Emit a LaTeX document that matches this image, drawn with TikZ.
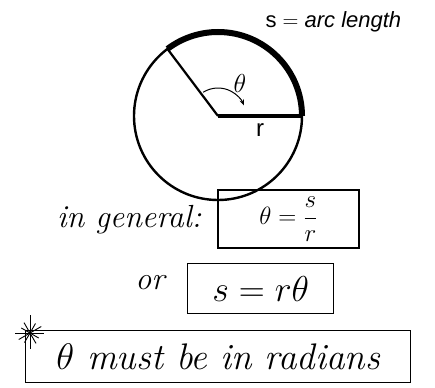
\documentclass[tikz,border=0pt]{standalone}
\usepackage{fix-cm}
\usepackage{fontspec}
\setsansfont{Liberation Sans}
\usetikzlibrary{arrows.meta}
\begin{document}
\begin{tikzpicture}[x=1pt,y=-1pt,
  thick arc/.style={line width=6pt},
  hand/.style={font=\fontsize{32}{34}\selectfont\itshape},
  box/.style={draw,line width=1.4pt,inner sep=0pt}]
\useasboundingbox (0,0) rectangle (435,387);
% circle
\coordinate (O) at (218,116);
\draw[line width=2.4pt] (O) circle[radius=84];
\draw[thick arc] ([shift={(0:84)}]O) arc[start angle=0,end angle=-127,radius=84];
\path (O) ++(-127:84) coordinate (A);
\draw[line width=2.2pt] (O) -- (A);
\coordinate (B) at (302,116);
\draw[line width=3.2pt] (O) -- (B);
% angle arrow
\draw[line width=1pt,-{Stealth[length=6pt]}] (O) ++(-122:28) arc[start angle=-122,end angle=-22,radius=28];
\node[font=\fontsize{26}{28}\selectfont] (th) at (240,83) {$\theta$};
\node[font=\sffamily\fontsize{24}{26}\selectfont] (r) at (260,130) {r};
\node[font=\sffamily\fontsize{22}{24}\selectfont, anchor=west] (slab) at (262,22) {s $=$ \textit{arc length}};
% box 1
\node[hand, anchor=east] (gen) at (205,220) {in general:};
\node[box, line width=1.8pt, minimum width=141, minimum height=58, anchor=north west] (b1) at (217,189) {};
\node[font=\fontsize{25}{27}\selectfont] at (b1.center) {$\theta=\displaystyle\frac{s}{r}$};
% box 2
\node[hand] (or) at (150,283) {or};
\node[box, minimum width=146, minimum height=50, anchor=north west] (b2) at (187,263) {};
\node[font=\fontsize{36}{38}\selectfont] at (b2.center) {$s=r\theta$};
% box 3
\node[box, minimum width=385, minimum height=52, anchor=north west] (b3) at (25,330) {};
\node[font=\fontsize{37}{39}\selectfont\itshape] at (b3.center) {$\theta$ must be in radians};
% star
\coordinate (st) at (30,333);
\foreach \a/\l in {0/14,30/10,60/12,90/16,120/11,150/13,180/15,210/10,240/12,270/18,300/11,330/13}{\draw[line width=0.9pt] (st) -- ++(\a:\l);}
\end{tikzpicture}
\end{document}
